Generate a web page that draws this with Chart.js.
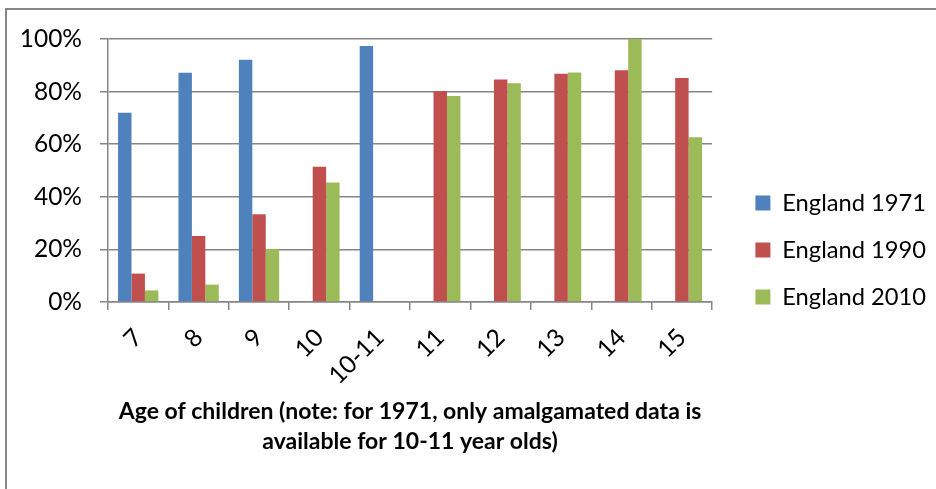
<!DOCTYPE html>
<html>
<head>
    <title>Children by age, England</title>
    <script src="https://cdn.jsdelivr.net/npm/chart.js"></script>
    <style>
        body { margin: 0; background: #fff; }
        #wrap { position: relative; width: 936px; height: 489px; overflow: hidden; }
        #frame {
            position: absolute; left: 5px; top: 8px; width: 1000px; height: 600px;
            border-left: 2px solid #868686; border-top: 2px solid #868686;
        }
        #chart { position: absolute; left: 0; top: 0; }
    </style>
</head>
<body>
    <div id="wrap">
        <div id="frame"></div>
        <canvas id="chart" width="936" height="489"></canvas>
    </div>

    <script>
        const FONT = 'Lato, "Open Sans", sans-serif';

        // age groups along the x axis
        const ages = ['7', '8', '9', '10', '10-11', '11', '12', '13', '14', '15'];

        // percentage of children, per survey year
        const england1971 = [72, 87.2, 92.1, null, 97.3, null, null, null, null, null];
        const england1990 = [10.8, 25.1, 33.4, 51.4, null, 80.2, 84.6, 86.8, 88.1, 85.2];
        const england2010 = [4.4, 6.6, 20.1, 45.4, null, 78.3, 83.2, 87.3, 100, 62.6];

        const seriesNames = ['England 1971', 'England 1990', 'England 2010'];
        const seriesColors = ['#4F81BD', '#C0504D', '#9BBB59'];

        const yMin = 0, yMax = 100, yStep = 20;
        const axisTitle = ['Age of children (note: for 1971, only amalgamated data is',
                           'available for 10-11 year olds)'];

        const gridColor = '#868686';

        new Chart(document.getElementById('chart'), {
            type: 'bar',
            data: {
                labels: ages,
                datasets: [england1971, england1990, england2010].map((values, i) => ({
                    label: seriesNames[i],
                    data: values,
                    backgroundColor: seriesColors[i],
                    borderWidth: 0,
                    categoryPercentage: 0.667,
                    barPercentage: 1
                }))
            },
            options: {
                responsive: false,
                animation: false,
                layout: { padding: { top: 39, bottom: 28, left: 0, right: 0 } },
                plugins: {
                    tooltip: { enabled: false },
                    legend: {
                        position: 'right',
                        align: 'center',
                        maxWidth: 206,
                        labels: {
                            boxWidth: 15,
                            boxHeight: 15,
                            padding: 23.3,
                            color: '#000',
                            font: { family: FONT, size: 23.7 }
                        }
                    }
                },
                scales: {
                    x: {
                        grid: {
                            display: true,
                            drawOnChartArea: false,
                            drawTicks: true,
                            tickLength: 8,
                            color: gridColor,
                            lineWidth: 1.5
                        },
                        border: { display: true, color: gridColor, width: 1.5 },
                        ticks: {
                            autoSkip: false,
                            minRotation: 45,
                            maxRotation: 45,
                            padding: 13,
                            color: '#000',
                            font: { family: FONT, size: 24.5 }
                        },
                        title: {
                            display: true,
                            text: axisTitle,
                            color: '#000',
                            padding: { top: 0, bottom: 4 },
                            font: { family: FONT, size: 23, weight: 'bold', lineHeight: '30px' }
                        },
                        afterFit(scale) { scale.height = 159; }
                    },
                    y: {
                        min: yMin,
                        max: yMax,
                        grid: {
                            color: gridColor,
                            lineWidth: 1.5,
                            drawTicks: true,
                            tickLength: 8
                        },
                        border: { display: true, color: gridColor, width: 1.5 },
                        ticks: {
                            stepSize: yStep,
                            padding: 18,
                            color: '#000',
                            font: { family: FONT, size: 24.5 },
                            callback: v => v + '%'
                        },
                        afterFit(scale) { scale.width = 108; }
                    },
                    // empty spacer between plot and legend
                    spacer: {
                        position: 'right',
                        display: true,
                        grid: { display: false, drawTicks: false },
                        border: { display: false },
                        ticks: { display: false },
                        afterFit(scale) { scale.width = 20; }
                    }
                }
            }
        });
    </script>
</body>
</html>
